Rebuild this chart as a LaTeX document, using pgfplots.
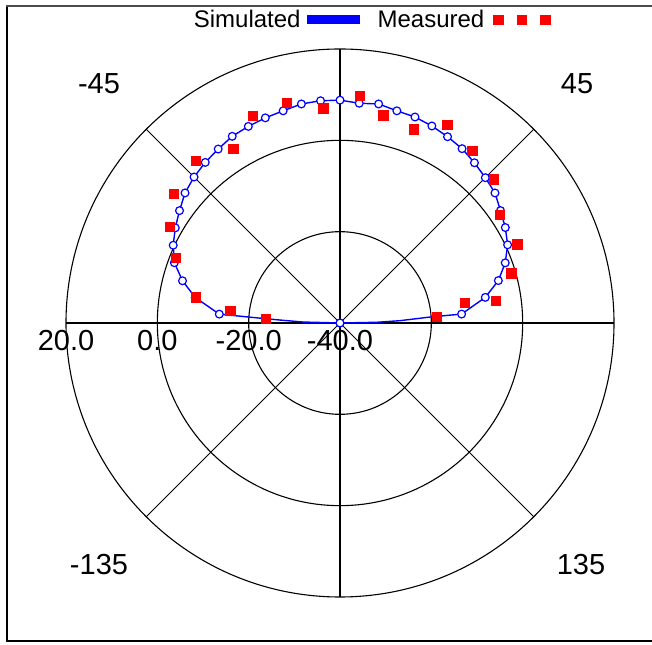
\documentclass[border=0pt]{standalone}
\usepackage{fontspec}
\setmainfont{Liberation Sans}
\usepackage{pgfplots}
\pgfplotsset{compat=1.18}
\usepackage{pgfplotstable}

% Simulated pattern: angle (deg, 0 = broadside, clockwise positive), level (dB)
\pgfplotstableread{
a v
-90 -40
-88.5 -31.9
-87.2 -26.9
-86.3 -20.3
-85.8 -13.5
-80 -7.8
-75 -4.3
-70 -1.4
-65 0.3
-60 1.65
-55 2.9
-50 4.3
-45 5.2
-40 5.9
-35 6.5
-30 7.2
-25 7.5
-20 7.8
-15 8.1
-10 8.7
-5 8.85
0 8.8
5 8.3
10 8.7
15 8.1
20 8.0
25 7.6
30 7.1
35 6.6
40 5.8
45 5.0
50 4.3
55 2.9
60 1.8
65 0.5
70 -1.5
75 -4.1
80 -7.7
85.8 -13.3
86.2 -20.2
87.8 -26.9
88.9 -32
90 -40
}\simline

\pgfplotstableread{
a v
-90 -40
-85.8 -13.5
-80 -7.8
-75 -4.3
-70 -1.4
-65 0.3
-60 1.65
-55 2.9
-50 4.3
-45 5.2
-40 5.9
-35 6.5
-30 7.2
-25 7.5
-20 7.8
-15 8.1
-10 8.7
-5 8.85
0 8.8
5 8.3
10 8.7
15 8.1
20 8.0
25 7.6
30 7.1
35 6.6
40 5.8
45 5.0
50 4.3
55 2.9
60 1.8
65 0.5
70 -1.5
75 -4.1
80 -7.7
85.8 -13.3
90 -40
}\simmarks

\pgfplotstableread{
a v
-86.7 -23.8
-83.6 -15.9
-79.9 -8.0
-68.3 -1.35
-60.5 2.8
-52.2 6.0
-41.6 7.5
-31.5 4.7
-22.8 9.2
-13.5 9.6
-4.4 7.1
5.0 9.9
11.8 6.4
20.9 5.4
28.5 9.3
37.6 7.6
47.0 6.1
56.0 2.3
66.1 2.5
73.9 -0.9
80.8 -12.3
81.9 -5.5
86.3 -18.7
}\meas

\begin{document}
\begin{tikzpicture}
\begin{axis}[
  scale only axis, width=652pt, height=644pt,
  xmin=-74.45, xmax=68.32, ymin=-70.29, ymax=70.73,
  axis lines=none, clip=false,
  legend plot pos=right, legend columns=2,
  legend style={at={(0.5690,0.969)}, anchor=center, draw=none, fill=none,
    font=\fontsize{24}{28}\selectfont,
    /tikz/every even column/.append style={column sep=11pt}},
]
% grid
\draw[black, line width=1.1pt] (axis cs:0,0) circle[radius=91.33pt];
\draw[black, line width=1.1pt] (axis cs:0,0) circle[radius=182.67pt];
\draw[black, line width=1.1pt] (axis cs:0,0) circle[radius=274pt];
\draw[black, line width=1.1pt] (axis cs:-60,0) -- (axis cs:60,0);
\draw[black, line width=1.1pt] (axis cs:0,-60) -- (axis cs:0,60);
\draw[black, line width=0.9pt] (axis cs:-42.43,42.43) -- (axis cs:42.43,-42.43);
\draw[black, line width=0.9pt] (axis cs:-42.43,-42.43) -- (axis cs:42.43,42.43);
% angle labels
\node[font=\fontsize{29}{32}\selectfont, inner sep=0pt] at (axis cs:-52.77,52.34) {-45};
\node[font=\fontsize{29}{32}\selectfont, inner sep=0pt] at (axis cs:51.9,52.34) {45};
\node[font=\fontsize{29}{32}\selectfont, inner sep=0pt] at (axis cs:-52.77,-52.99) {-135};
\node[font=\fontsize{29}{32}\selectfont, inner sep=0pt] at (axis cs:52.77,-52.99) {135};
% radial labels
\node[font=\fontsize{29}{32}\selectfont, inner sep=0pt, anchor=north, yshift=-7pt] at (axis cs:-60,0) {20.0};
\node[font=\fontsize{29}{32}\selectfont, inner sep=0pt, anchor=north, yshift=-7pt] at (axis cs:-40,0) {0.0};
\node[font=\fontsize{29}{32}\selectfont, inner sep=0pt, anchor=north, yshift=-7pt] at (axis cs:-20,0) {-20.0};
\node[font=\fontsize{29}{32}\selectfont, inner sep=0pt, anchor=north, yshift=-7pt] at (axis cs:0,0) {-40.0};

\addlegendimage{legend image code/.code={\draw[blue,line width=9pt] (0pt,0pt) -- (53pt,0pt);}}
\addlegendentry{Simulated}
\addlegendimage{legend image code/.code={%
  \path (-7pt,0pt);
  \fill[red] (0pt,-4.7pt) rectangle (9.4pt,4.7pt);
  \fill[red] (23.5pt,-4.7pt) rectangle (32.9pt,4.7pt);
  \fill[red] (47pt,-4.7pt) rectangle (56.4pt,4.7pt);}}
\addlegendentry{Measured}

\addplot[blue, line width=1.4pt, no marks, forget plot, data cs=polar]
  table[x expr=90-\thisrow{a}, y expr=\thisrow{v}+40]{\simline};
\addplot[blue, only marks, forget plot, data cs=polar, mark=*, mark size=3.9pt,
  mark options={fill=white, draw=blue, line width=1.2pt}]
  table[x expr=90-\thisrow{a}, y expr=\thisrow{v}+40]{\simmarks};
\addplot[red, only marks, forget plot, data cs=polar, mark=square*, mark size=4.7pt,
  mark options={fill=red, draw=red, line width=0pt}]
  table[x expr=90-\thisrow{a}, y expr=\thisrow{v}+40]{\meas};
\end{axis}
\draw[black, line width=2.5pt] (7pt,3pt) -- (7pt,638pt);
\draw[black!70, line width=2pt] (6pt,638pt) -- (652pt,638pt);
\draw[black, line width=2pt] (6pt,3pt) -- (652pt,3pt);
\pgfresetboundingbox
\useasboundingbox (0,0) rectangle (652pt,644pt);
\end{tikzpicture}
\end{document}
